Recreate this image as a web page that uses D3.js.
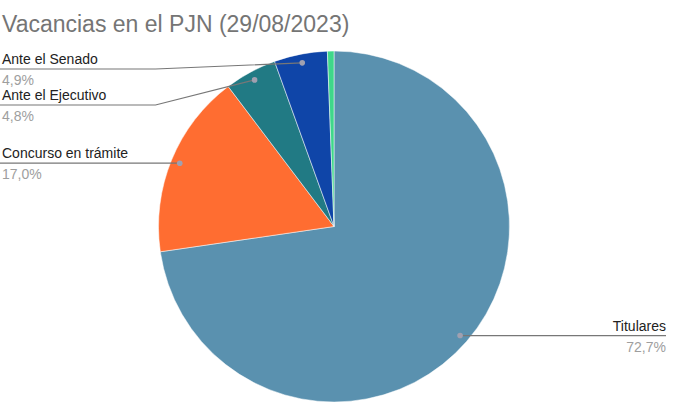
<!DOCTYPE html>
<html>
<head>
<meta charset="utf-8">
<script src="https://cdn.jsdelivr.net/npm/d3@7"></script>
<style>
  html, body { margin: 0; padding: 0; background: #fff; }
  svg { display: block; font-family: "Liberation Sans", Arial, sans-serif; }
</style>
</head>
<body>
<svg id="chart" width="680" height="403"></svg>
<script>
const title = "Vacancias en el PJN (29/08/2023)";
const categories = ["Titulares", "Concurso en trámite", "Ante el Ejecutivo", "Ante el Senado", "Otros"];
const values = [72.7, 17.0, 4.8, 4.9, 0.6];
const colors = ["#5a91af", "#ff6d31", "#217a84", "#0f45a8", "#3fd88a"];

const W = 680, H = 403;
const cx = 334, cy = 226.5, R = 175.5;
const svg = d3.select("#chart");

svg.append("text")
  .attr("x", 2).attr("y", 32)
  .attr("font-size", 23)
  .attr("fill", "#757575")
  .text(title);

const data = categories.map((c, i) => ({ name: c, value: values[i], color: colors[i] }));
const total = d3.sum(values);
const pie = d3.pie().sort(null).value(d => d.value).startAngle(0).endAngle(2 * Math.PI);
const arcs = pie(data);
const arc = d3.arc().innerRadius(0).outerRadius(R);

const g = svg.append("g").attr("transform", `translate(${cx},${cy})`);
g.selectAll("path.slice").data(arcs).join("path")
  .attr("class", "slice")
  .attr("d", arc)
  .attr("fill", d => d.data.color)
  .attr("stroke", "#ffffff")
  .attr("stroke-width", 0.5);

const fmt = v => d3.format(".1f")(v).replace(".", ",") + "%";

// labels
const dotR = R * 0.95;
const labelled = arcs.filter(a => a.data.value / total >= 0.01).map(a => {
  const m = (a.startAngle + a.endAngle) / 2;
  const dx = Math.sin(m) * dotR, dy = -Math.cos(m) * dotR;
  return { a, m, dotX: cx + dx, dotY: cy + dy, side: dx < 0 ? "left" : "right" };
});

// layout: left side, push down from top bound with minimum spacing
const topBound = cy - R + 18;
const spacing = 36;
["left", "right"].forEach(side => {
  const items = labelled.filter(l => l.side === side).sort((p, q) => p.dotY - q.dotY);
  let prev = -Infinity;
  items.forEach(l => {
    let y = Math.max(l.dotY, topBound, prev + spacing);
    l.lineY = y;
    prev = y;
  });
});

const elbowX = cx - R - 3;
const lg = svg.append("g");
labelled.forEach(l => {
  let pts;
  if (l.side === "left") {
    pts = [[0, l.lineY], [elbowX, l.lineY], [l.dotX, l.dotY]];
    if (Math.abs(l.lineY - l.dotY) < 0.5) pts = [[0, l.lineY], [l.dotX, l.dotY]];
  } else {
    pts = [[l.dotX, l.dotY], [W - 14, l.lineY]];
  }
  lg.append("path")
    .attr("d", d3.line()(pts))
    .attr("fill", "none")
    .attr("stroke", "#777777")
    .attr("stroke-width", 1.2);
  lg.append("circle")
    .attr("cx", l.dotX).attr("cy", l.dotY).attr("r", 2.8)
    .attr("fill", "#a0a0b0");
  const tx = l.side === "left" ? 2 : W - 14;
  const anchor = l.side === "left" ? "start" : "end";
  lg.append("text")
    .attr("x", tx).attr("y", l.lineY - 5)
    .attr("text-anchor", anchor)
    .attr("font-size", 14)
    .attr("fill", "#222222")
    .text(l.a.data.name);
  lg.append("text")
    .attr("x", tx).attr("y", l.lineY + 16)
    .attr("text-anchor", anchor)
    .attr("font-size", 14)
    .attr("fill", "#9e9e9e")
    .text(fmt(l.a.data.value / total * 100));
});
</script>
</body>
</html>
